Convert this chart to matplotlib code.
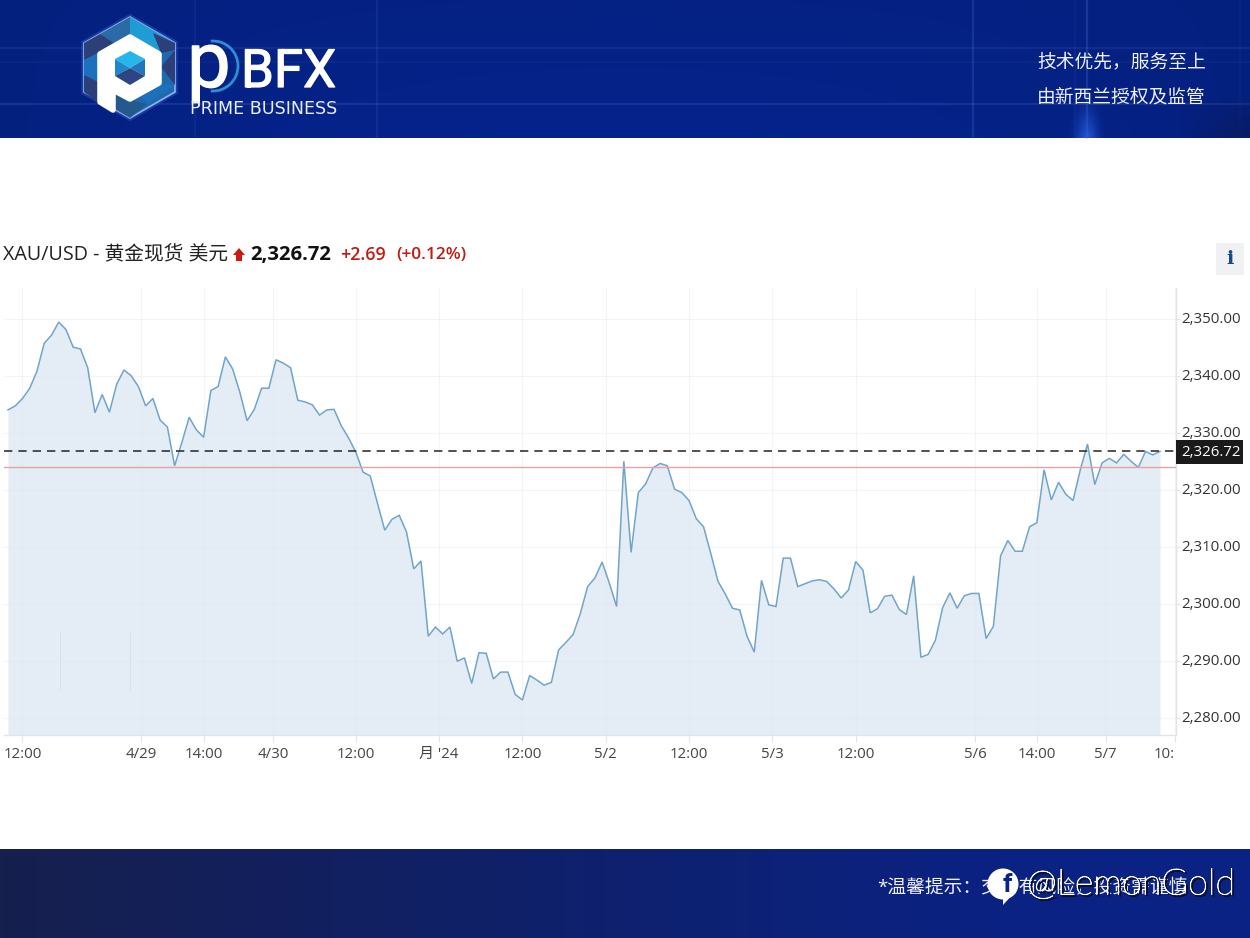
import numpy as np
import matplotlib
matplotlib.use("Agg")
import matplotlib.pyplot as plt
from matplotlib.patches import Polygon, Rectangle, Arc, Circle
from matplotlib.transforms import ScaledTranslation
import matplotlib.patheffects as pe

FONT = ['Open Sans', 'Noto Sans CJK SC', 'DejaVu Sans']
CJK = ['Noto Sans CJK SC', 'DejaVu Sans']
plt.rcParams['font.family'] = FONT

# ---------- data ----------
prices_a = [2334.0, 2334.7, 2336.0, 2337.8, 2340.8, 2345.7, 2347.1, 2349.4, 2348.1, 2345.0,
            2344.7, 2341.4, 2333.5, 2336.7, 2333.6, 2338.5, 2341.0, 2340.0, 2338.1, 2334.7,
            2336.0, 2332.2, 2331.0, 2324.2, 2328.3, 2332.7, 2330.5, 2329.2, 2337.4, 2338.1,
            2343.3, 2341.2, 2337.1, 2332.1, 2334.1, 2337.8, 2337.8, 2342.8, 2342.2, 2341.4,
            2335.7, 2335.4, 2334.9, 2333.1, 2334.0, 2334.1, 2331.2, 2329.1]
prices_b = [2326.6, 2323.1, 2322.4, 2317.6, 2312.9, 2314.8, 2315.5, 2312.6, 2306.1, 2307.5,
            2294.3, 2295.9, 2294.7, 2295.9, 2289.9, 2290.5, 2286.0, 2291.4, 2291.3, 2286.8,
            2288.0, 2288.0, 2284.1, 2283.1, 2287.4, 2286.6, 2285.7, 2286.2, 2291.9, 2293.2,
            2294.6, 2298.3, 2303.0, 2304.5, 2307.3, 2303.6, 2299.5, 2325.0, 2309.0, 2319.5,
            2321.0, 2323.8, 2324.6, 2324.2, 2320.1, 2319.5, 2318.1, 2314.9, 2313.5, 2308.8,
            2303.9, 2301.7, 2299.2]
prices_c = [2298.9, 2294.3, 2291.5, 2304.1, 2299.8, 2299.5, 2308.0, 2308.0, 2303.0, 2303.5,
            2304.0, 2304.2, 2303.9, 2302.6, 2301.0, 2302.4, 2307.4, 2305.9, 2298.4, 2299.1,
            2301.3, 2301.5, 2299.0, 2298.1, 2304.9, 2290.6, 2291.1, 2293.6, 2299.3, 2301.9,
            2299.2, 2301.4, 2301.8, 2301.8, 2293.9, 2296.0, 2308.4, 2311.1, 2309.2, 2309.2,
            2313.5, 2314.2, 2323.5, 2318.2, 2321.3, 2319.2, 2318.1, 2323.5, 2328.0, 2320.9,
            2324.7, 2325.5, 2324.7, 2326.2, 2325.0, 2323.9, 2326.7, 2326.1, 2326.72]
last_price = 2326.72
prev_close = 2324.03
x_tick_pos = [2, 18.4, 27, 36.6, 48, 59.5, 71, 82.5, 94, 105.5, 117, 133.5, 142, 151.5, 161.05]
x_tick_labels = ['12:00', '4/29', '14:00', '4/30', '12:00', "月 '24", '12:00', '5/2', '12:00',
                 '5/3', '12:00', '5/6', '14:00', '5/7', '10:']
y_tick_vals = [2280, 2290, 2300, 2310, 2320, 2330, 2340, 2350]

prices = np.array(prices_a + prices_b + prices_c)
idx = np.arange(len(prices))

W, H = 1250, 938
fig = plt.figure(figsize=(W / 100, H / 100), dpi=100, facecolor='white')

# ---------- chart ----------
L, R, T, B = 4, 1176, 288, 735
ax = fig.add_axes([L / W, 1 - B / H, (R - L) / W, (B - T) / H], zorder=1)
ax.patch.set_visible(False)
step = 1152 / (len(prices) - 1)
ax.set_xlim((L - 8) / step, (R - 8) / step)
ppu = 5.7
ymin = 2330 - (B - 432.7) / ppu
ymax = 2330 + (432.7 - T) / ppu
ax.set_ylim(ymin, ymax)
ax.set_axisbelow(False)

ax.fill_between(idx, prices, ymin, color='#e4edf5', lw=0, zorder=1)
for v in y_tick_vals:
    ax.axhline(v, color='#dfe6ee', lw=0.8, alpha=0.4, zorder=2)
for v in x_tick_pos:
    ax.axvline(v, color='#dfe6ee', lw=0.8, alpha=0.4, zorder=2)
ax.plot(idx, prices, color='#72a4c8', lw=1.1, zorder=3, solid_joinstyle='miter')
ax.axhline(prev_close, color='#e6a3a3', lw=1.0, zorder=4)
ax.axhline(last_price, color='#333333', lw=1.2, dashes=(5, 3.6), zorder=5)

for s in ['top', 'left']:
    ax.spines[s].set_visible(False)
for s in ['right', 'bottom']:
    ax.spines[s].set_color('#e2e4e8')
    ax.spines[s].set_linewidth(1.0)
ax.yaxis.tick_right()
ax.set_yticks(y_tick_vals)
ax.set_yticklabels([f'{v:,.2f}' for v in y_tick_vals], color='#333333', fontsize=10.8, va='center')
ax.set_xticks(x_tick_pos)
ax.set_xticklabels(x_tick_labels, color='#444444', fontsize=10.8)
ax.tick_params(axis='x', length=5, width=0.8, color='#e2e4e8', pad=3.5)
ax.tick_params(axis='y', length=3, width=0.8, color='#e2e4e8', pad=1.0)
ax.get_xticklabels()[-1].set_ha('right')
for t in ax.get_yticklabels():
    t.set_transform(t.get_transform() + ScaledTranslation(0, -1 / 100, fig.dpi_scale_trans))

# ---------- overlay in pixel coordinates ----------
ov = fig.add_axes([0, 0, 1, 1], zorder=2)
ov.patch.set_visible(False)
ov.set_axis_off()


def hexc(c):
    return np.array(matplotlib.colors.to_rgb(c))


# top banner
xs = np.linspace(0, 1, 625)
ys = np.linspace(0, 1, 70)
top = np.zeros((70, 625, 3))
c0, c1 = hexc('#04207f'), hexc('#05238c')
for j, yy in enumerate(ys):
    for_x = np.abs(xs - 0.5) * 2
    mix = (1 - for_x ** 2)[:, None] * (0.35 + 0.65 * yy)
    top[j] = c0 * (1 - mix) + c1 * mix
ov.imshow(top, extent=(0, W, 138, 0), aspect='auto', zorder=0)
for xv, a in [(195, .08), (377, .12), (973, .18), (1075, .06), (1087, .22), (1240, .04)]:
    ov.plot([xv, xv], [0, 138], color='#5f8df0', lw=1.6, alpha=a, zorder=0.5)
for yv, a in [(48, .10), (62, .05), (104, .15)]:
    ov.plot([0, W], [yv, yv], color='#7fa4f0', lw=1.6, alpha=a, zorder=0.5)
glow = np.zeros((40, 60, 4))
glow[..., :3] = hexc('#2b63e8')
gx = np.exp(-((np.linspace(-1, 1, 60)) / 0.35) ** 2)
gy = np.linspace(0, 0.75, 40)
glow[..., 3] = gy[:, None] * gx[None, :]
ov.imshow(glow, extent=(1057, 1117, 138, 98), aspect='auto', zorder=0.6)
dark = np.zeros((40, 70, 4))
dark[..., :3] = hexc('#0a1a5c')
dx = np.linspace(0, 0.8, 70)
dark[..., 3] = dx[None, :] * np.linspace(0.2, 1, 40)[:, None]
ov.imshow(dark, extent=(1180, W, 138, 98), aspect='auto', zorder=0.6)

# bottom banner
bot = np.zeros((2, 625, 3))
bl, br = hexc('#161f4e'), hexc('#0a2283')
m = np.clip(xs * 1.25, 0, 1)[:, None]
bot[:] = bl * (1 - m) + br * m
ov.imshow(bot, extent=(0, W, 938, 849), aspect='auto', zorder=0)

# logo
hex_pts = [(130, 17), (175, 43), (175, 92), (130, 118), (84, 92), (84, 43)]
ov.add_patch(Polygon(hex_pts, closed=True, fc='#1f6aae', ec='#8fb4ec', lw=1.2, zorder=1,
                     path_effects=[pe.withStroke(linewidth=4, foreground='#2d55c8', alpha=.5)]))
facets = [([(130, 17), (175, 43), (160, 52), (130, 35)], '#1f9bd6'),
          ([(130, 17), (100, 34), (115, 44), (130, 35)], '#2a6aa5'),
          ([(100, 34), (84, 43), (84, 60), (98, 53), (115, 44)], '#2c3f78'),
          ([(84, 60), (98, 53), (98, 82), (84, 75)], '#1c70bc'),
          ([(84, 75), (98, 82), (98, 103), (84, 92)], '#2c3f78'),
          ([(153, 33), (175, 43), (175, 50), (161, 53)], '#2c3f78'),
          ([(175, 50), (161, 67), (175, 85)], '#2c3f78'),
          ([(175, 85), (161, 84), (140, 96), (148, 103)], '#1c70bc'),
          ([(115, 92), (130, 100), (147, 104), (130, 118), (115, 109)], '#24588f')]
for pts, col in facets:
    ov.add_patch(Polygon(pts, closed=True, fc=col, ec='none', zorder=1.1))
ov.add_patch(Polygon([(100, 54), (130, 37), (159, 54), (159, 83), (130, 99), (113, 90),
                      (113, 110), (100, 102)], closed=True, fc='white', ec='white', lw=4,
                     joinstyle='round', zorder=1.2))
ov.add_patch(Polygon([(130, 51), (145, 59), (130, 68), (115, 59)], closed=True, fc='#27b6ea', zorder=1.3))
ov.add_patch(Polygon([(115, 59), (130, 68), (115, 76)], closed=True, fc='#1f86c8', zorder=1.3))
ov.add_patch(Polygon([(145, 59), (130, 68), (145, 76)], closed=True, fc='#1f77b8', zorder=1.3))
ov.add_patch(Polygon([(115, 76), (130, 68), (145, 76), (130, 85)], closed=True, fc='#2f4583', zorder=1.3))

thick = [pe.withStroke(linewidth=0.9, foreground='white')]
ov.text(187, 87, 'p', color='white', fontsize=56, family=['Roboto'], ha='left', va='baseline',
        zorder=2, path_effects=thick)
ov.add_patch(Arc((213, 66), 50, 50, theta1=-95, theta2=95, ec='#2a8fd6', lw=2.0, zorder=2))
ov.text(241, 87, 'BFX', color='white', fontsize=38, family=['Roboto'], ha='left', va='baseline',
        zorder=2, path_effects=thick)
ov.text(190, 114, 'PRIME BUSINESS', color='#e8eefb', fontsize=12.6, family=['DejaVu Sans'],
        ha='left', va='baseline', zorder=2)

ov.text(1037, 62, '技术优先，服务至上', color='#eef1fa', fontsize=13.5, family=CJK, va='center', ha='left', zorder=2)
ov.text(1037, 97.5, '由新西兰授权及监管', color='#eef1fa', fontsize=13.5, family=CJK, va='center', ha='left', zorder=2)

# title row
ov.text(3, 255, 'XAU/USD - 黄金现货 美元', color='#222222', fontsize=14.2, family=FONT, va='center', ha='left')
ov.add_patch(Polygon([(239, 248), (245, 255), (242, 255), (242, 261), (236, 261), (236, 255), (233, 255)],
                     closed=True, fc='#cc1a10', ec='none'))
ov.text(250, 255, f'{last_price:,.2f}', color='#111111', fontsize=14.6, family=FONT, fontweight='bold',
        va='center', ha='left')
ov.text(340, 255, '+2.69', color='#bf1c14', fontsize=12.9, family=FONT, fontweight='semibold', va='center', ha='left')
ov.text(396, 255, '(+0.12%)', color='#bf1c14', fontsize=12.4, family=FONT, fontweight='semibold', va='center', ha='left')

# info button
ov.add_patch(Rectangle((1216, 243), 28, 32, fc='#f0f1f3', ec='none'))
ov.text(1230, 259, 'i', color='#174a8c', fontsize=14, family=['DejaVu Serif'], fontweight='bold', ha='center', va='center')

# last-price tag
ov.add_patch(Rectangle((1176, 440), 67, 24, fc='#1a1a1a', ec='none', zorder=3))
ov.text(1211, 452, f'{last_price:,.2f}', color='white', fontsize=10.8, family=FONT, ha='center', va='center', zorder=4)

# faint watermark marks inside the area fill
for xv in (60, 130):
    ov.plot([xv, xv], [632, 690], color='#d9e2ec', lw=0.7, zorder=2)

# footer
ov.text(877, 888, '*温馨提示：交易有风险，投资需谨慎', color='#f0f2fa', fontsize=13.5, family=FONT, va='center', ha='left', zorder=2)
ov.add_patch(Circle((1003, 884), 15.5, fc='white', ec='none', zorder=3))
ov.add_patch(Polygon([(1003, 895), (1003, 905), (1014, 893)], closed=True, fc='white', ec='none', zorder=3))
ov.text(1007, 885, 'f', color='#0a2283', fontsize=19, family=['Roboto'], fontweight='bold', ha='center', va='center', zorder=4)
ov.text(1027, 885, '@LemonGold', color='white', fontsize=26, family=['Lato'], fontweight='light', va='center', ha='left', zorder=5,
        path_effects=[pe.Stroke(linewidth=0.8, foreground='#0a0f30', offset=(1.3, -1.3)),
                      pe.Stroke(linewidth=0.5, foreground='white'), pe.Normal()])

ov.set_xlim(0, W)
ov.set_ylim(H, 0)

fig.savefig('out.png', dpi=100, facecolor='white')
